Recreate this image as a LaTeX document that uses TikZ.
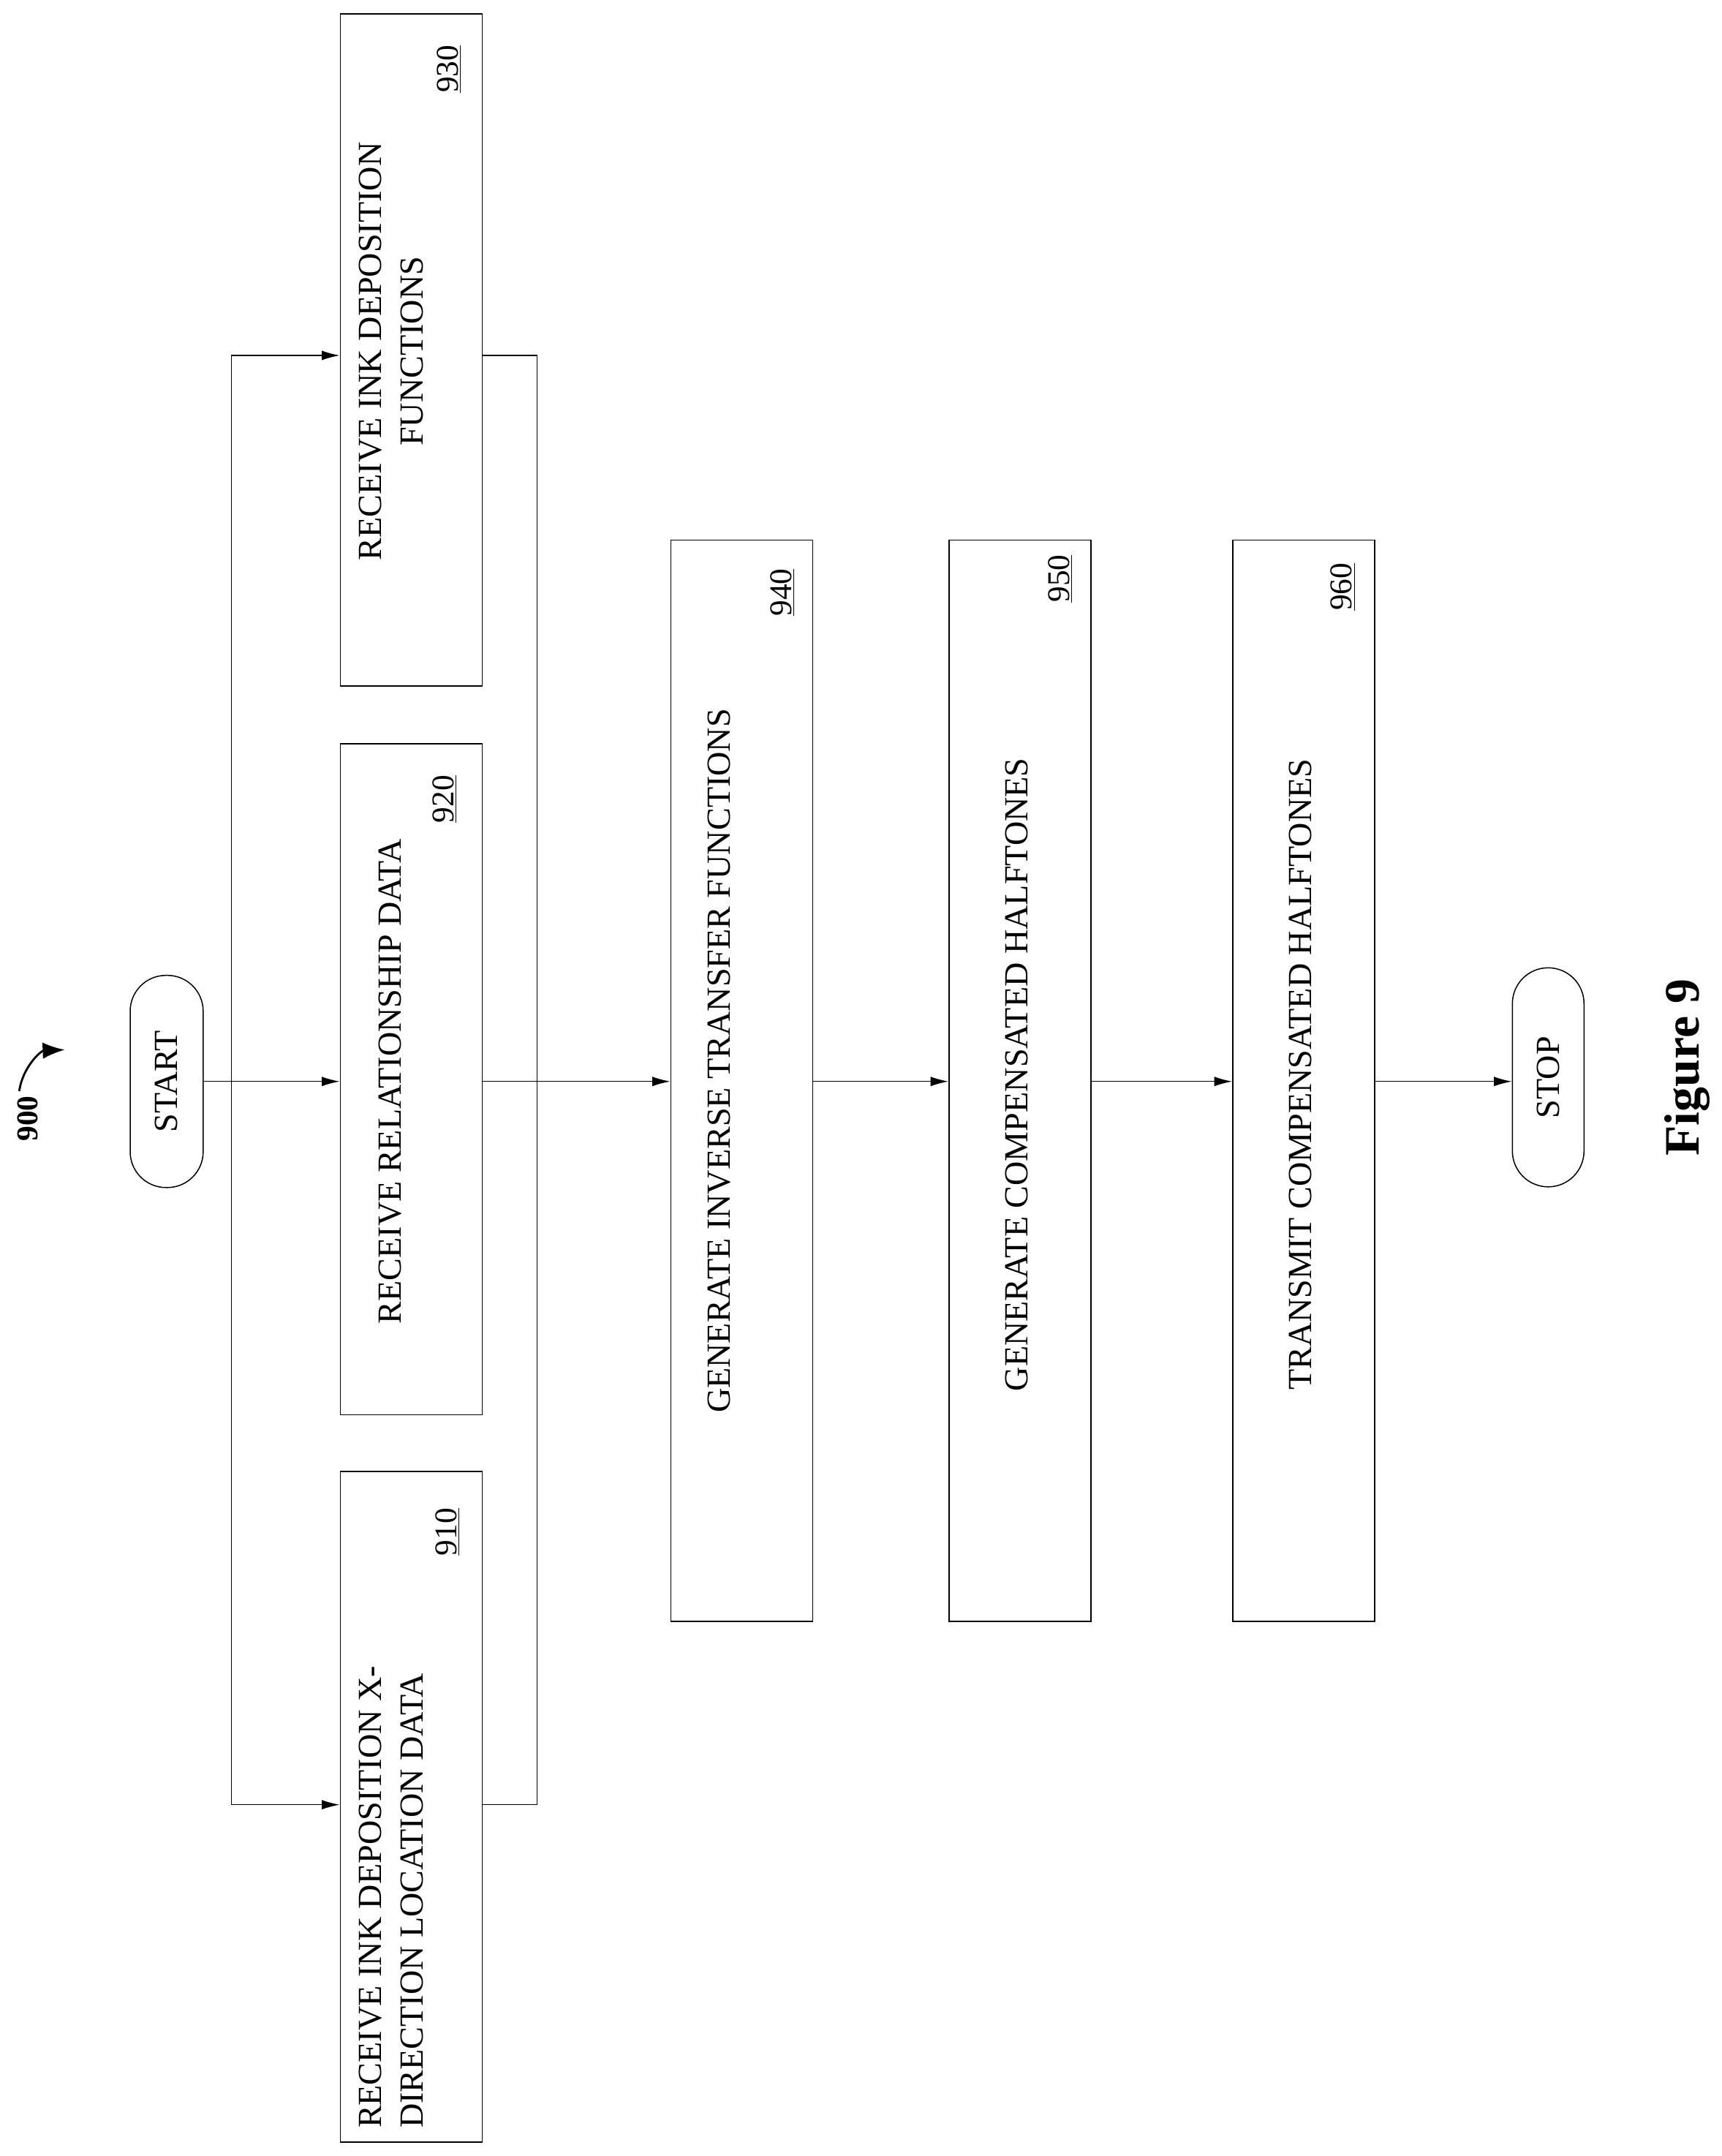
\documentclass[tikz,border=0pt]{standalone}
\usepackage{fontspec}
\setmainfont{Liberation Serif}
\usetikzlibrary{arrows.meta}
\begin{document}
\begin{tikzpicture}[x=1pt,y=-1pt,
 box/.style={draw,thick,rectangle,inner sep=0},
 pill/.style={draw,thick,rounded corners=26pt,inner sep=0},
 txt/.style={rotate=90,font=\fontsize{24.5}{30}\selectfont,align=center,inner sep=0},
 num/.style={rotate=90,font=\fontsize{23}{27}\selectfont,inner sep=0},
 arr/.style={-{Latex[length=13pt,width=7pt]},thick}]
\useasboundingbox (0,0) rectangle (1250,1565);
\node[pill,minimum width=53pt,minimum height=154pt] (st) at (121,785) {};
\node[txt] at (st) {START};
\node[pill,minimum width=52pt,minimum height=159pt] (sp) at (1124,782) {};
\node[txt] at (sp) {STOP};
\node[box,minimum width=103pt,minimum height=487pt] (b910) at (298.5,1311.5) {};
\node[box,minimum width=103pt,minimum height=487pt] (b920) at (298.5,783.5) {};
\node[box,minimum width=103pt,minimum height=488pt] (b930) at (298.5,254) {};
\node[box,minimum width=103pt,minimum height=785pt] (b940) at (538.5,784.5) {};
\node[box,minimum width=103pt,minimum height=785pt] (b950) at (740.5,784.5) {};
\node[box,minimum width=103pt,minimum height=785pt] (b960) at (946.5,784.5) {};
\node[txt,align=left,anchor=west] at (284,1545) {RECEIVE INK DEPOSITION X-\\DIRECTION LOCATION DATA};
\node[txt] at (283,785) {RECEIVE RELATIONSHIP DATA};
\node[txt] at (284,255) {RECEIVE INK DEPOSITION\\FUNCTIONS};
\node[txt] at (522,770) {GENERATE INVERSE TRANSFER FUNCTIONS};
\node[txt] at (738,780) {GENERATE COMPENSATED HALFTONES};
\node[txt] at (944,780) {TRANSMIT COMPENSATED HALFTONES};
\node[num] at (325,1112) {\underline{910}};
\node[num] at (323,580) {\underline{920}};
\node[num] at (326,50) {\underline{930}};
\node[num] at (568,430) {\underline{940}};
\node[num] at (770,420) {\underline{950}};
\node[num] at (975,426) {\underline{960}};
\draw[arr] (st.east) -- (b920.west|-st.east);
\draw[thick] (168,258) -- (168,1310);
\draw[arr] (168,258) -- (b930.west|-168,258);
\draw[arr] (168,1310) -- (b910.west|-168,1310);
\draw[thick] (b930.east|-0,258) -- (390,258) -- (390,1310) -- (b910.east|-0,1310);
\draw[arr] (b920.east|-0,785) -- (b940.west|-0,785);
\draw[arr] (b940.east|-0,785) -- (b950.west|-0,785);
\draw[arr] (b950.east|-0,785) -- (b960.west|-0,785);
\draw[arr] (b960.east|-0,785) -- (sp.west|-0,785);
\node[rotate=90,font=\bfseries\fontsize{22}{26}\selectfont] (n900) at (20,812) {900};
\draw[-{Latex[length=16pt,width=12pt]},line width=1.5pt] (14,792) to[bend left=40] (47,762);
\node[rotate=90,font=\bfseries\fontsize{36}{42}\selectfont] (fig) at (1225,775) {Figure 9};
\end{tikzpicture}
\end{document}
